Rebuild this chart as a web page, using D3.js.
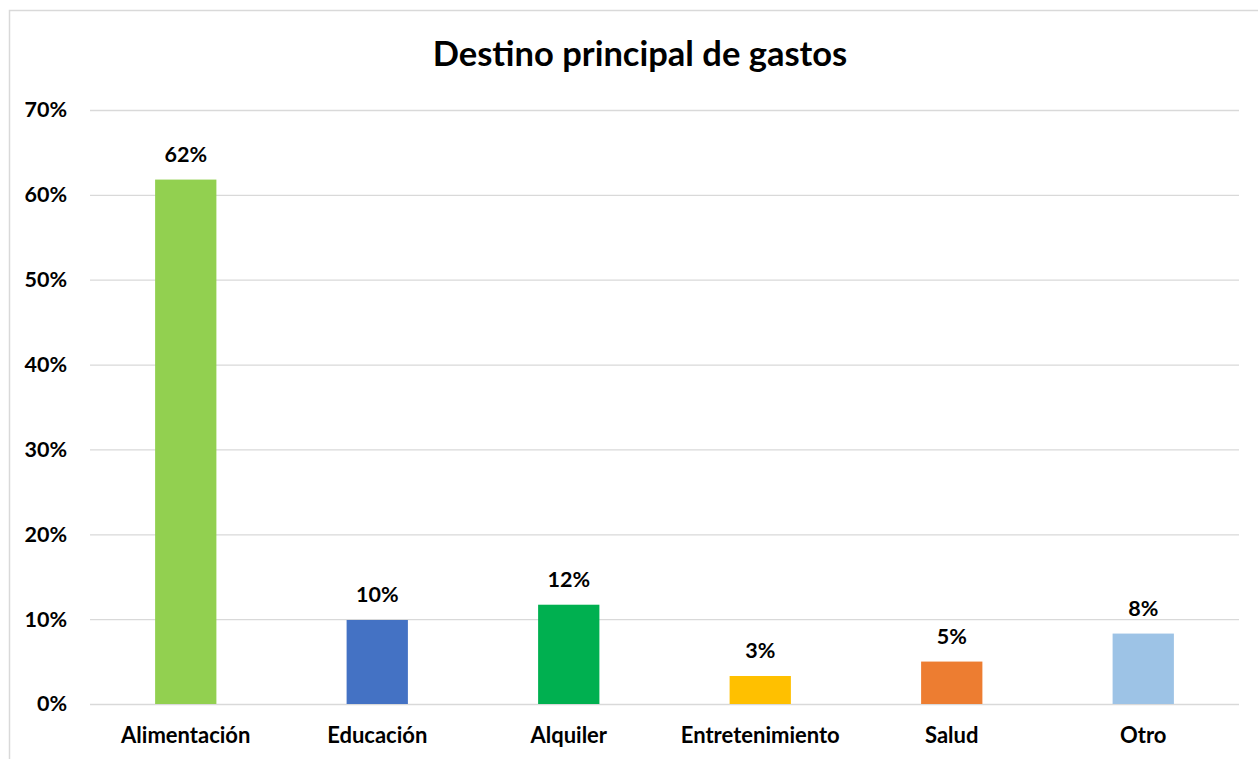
<!DOCTYPE html>
<html>
<head>
<meta charset="utf-8">
<script src="https://cdn.jsdelivr.net/npm/d3@7"></script>
<style>
  html, body { margin: 0; padding: 0; background: #fff; }
  svg { display: block; }
  text { font-family: Lato, "Open Sans", sans-serif; font-weight: bold; fill: #000; }
</style>
</head>
<body>
<svg id="chart" width="1258" height="759"></svg>
<script>
// Share of spending by main destination
const categories = ["Alimentación", "Educación", "Alquiler", "Entretenimiento", "Salud", "Otro"];
const values = [0.618, 0.099, 0.117, 0.033, 0.050, 0.083];
const colors = ["#92d050", "#4472c4", "#00b050", "#ffc000", "#ed7d31", "#9dc3e6"];
const yTicks = [0, 0.1, 0.2, 0.3, 0.4, 0.5, 0.6, 0.7];
const title = "Destino principal de gastos";

const svg = d3.select("#chart");
const plot = { left: 90, right: 1239, top: 110, bottom: 704 };

// chart frame
svg.append("rect")
  .attr("x", 9.5).attr("y", 10.5)
  .attr("width", 1300).attr("height", 800)
  .attr("fill", "#fff")
  .attr("stroke", "#d9d9d9").attr("stroke-width", 1.5);

const x = d3.scaleBand()
  .domain(categories)
  .range([plot.left, plot.right])
  .paddingInner(0.68)
  .paddingOuter(0.34);

const y = d3.scaleLinear()
  .domain([0, 0.7])
  .range([plot.bottom, plot.top]);

// gridlines + y labels
const yAxis = d3.axisLeft(y)
  .tickValues(yTicks)
  .tickFormat(d3.format(".0%"))
  .tickSize(-(plot.right - plot.left))
  .tickPadding(23);

const gy = svg.append("g")
  .attr("transform", `translate(${plot.left},0)`)
  .call(yAxis);
gy.select(".domain").remove();
gy.selectAll(".tick line").attr("stroke", "#d9d9d9").attr("stroke-width", 1.3);
gy.selectAll(".tick text")
  .attr("font-size", 21.5)
  .attr("font-family", "Lato, sans-serif")
  .attr("font-weight", "bold")
  .attr("fill", "#000");

// bars
svg.append("g").selectAll("rect")
  .data(categories)
  .join("rect")
  .attr("x", d => x(d))
  .attr("width", x.bandwidth())
  .attr("y", (d, i) => y(values[i]))
  .attr("height", (d, i) => y(0) - y(values[i]))
  .attr("fill", (d, i) => colors[i]);

// value labels
svg.append("g").selectAll("text")
  .data(categories)
  .join("text")
  .attr("x", d => x(d) + x.bandwidth() / 2)
  .attr("y", (d, i) => y(values[i]) - 18)
  .attr("text-anchor", "middle")
  .attr("font-size", 21.5)
  .text((d, i) => d3.format(".0%")(values[i]));

// category axis
const xAxis = d3.axisBottom(x).tickSize(0).tickPadding(0);
const gx = svg.append("g")
  .attr("transform", `translate(0,${plot.bottom})`)
  .call(xAxis);
gx.select(".domain").remove();
gx.selectAll(".tick text")
  .attr("dy", null)
  .attr("y", 39)
  .attr("font-size", 22)
  .attr("font-family", "Lato, sans-serif")
  .attr("font-weight", "bold")
  .attr("fill", "#000");

// title
svg.append("text")
  .attr("x", 640)
  .attr("y", 66)
  .attr("text-anchor", "middle")
  .attr("font-size", 34.5)
  .text(title);
</script>
</body>
</html>
